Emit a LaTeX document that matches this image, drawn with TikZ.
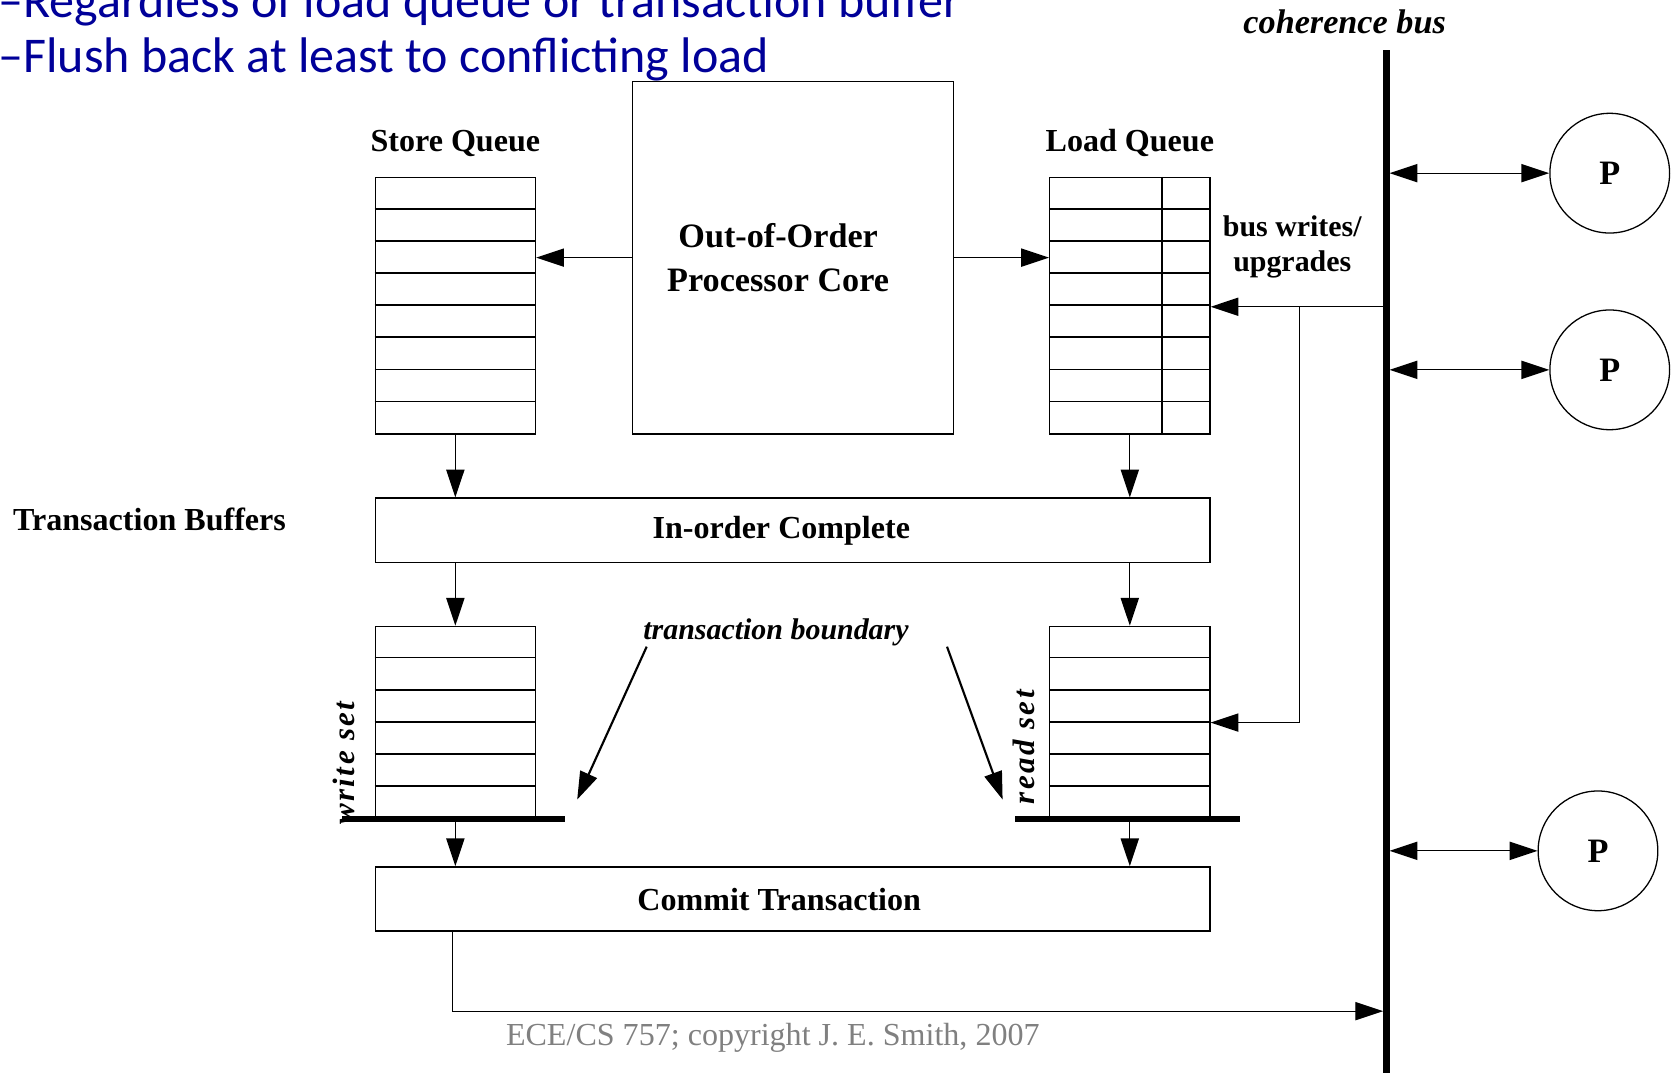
\documentclass[tikz,border=0pt]{standalone}
\usepackage{fontspec}
\setmainfont{Liberation Serif}
\newfontfamily\slidefont{Carlito}
\usetikzlibrary{arrows.meta, positioning}
\definecolor{slideblue}{RGB}{0,0,153}
\definecolor{footgray}{RGB}{128,128,128}
\tikzstyle{queue} = [draw, rectangle, inner sep=0pt, minimum width=75pt, minimum height=120pt]
\tikzstyle{tset} = [draw, rectangle, inner sep=0pt, minimum width=75pt, minimum height=90pt]
\tikzstyle{stage} = [draw, rectangle, inner sep=0pt, minimum width=390.5pt, minimum height=30pt]
\tikzstyle{stagetxt} = [font=\fontsize{15}{18}\selectfont\bfseries]
\tikzstyle{proc} = [draw, circle, inner sep=0pt, minimum size=56pt, font=\fontsize{16}{19}\selectfont\bfseries]
\tikzstyle{heading} = [font=\fontsize{15}{18}\selectfont\bfseries]
\tikzstyle{note} = [font=\fontsize{14}{17}\selectfont\bfseries\itshape]
\tikzstyle{setlbl} = [rotate=90, font=\fontsize{14.5}{17}\selectfont\bfseries\itshape\addfontfeature{LetterSpace=8}]
\tikzstyle{bar} = [line width=3pt]
\tikzstyle{slide} = [anchor=base west, inner sep=0pt, text=slideblue, font=\slidefont\fontsize{23.4}{28}\selectfont]

\begin{document}
\begin{tikzpicture}[x=0.5pt, y=-0.5pt, line width=0.6pt, >={Triangle[length=13pt,width=8.5pt]}]
\useasboundingbox (0,0) rectangle (1568,1003);

% slide text
\node[slide] (line1) at (-2,16) {–Regardless of load queue or transaction buffer};
\node[slide] (line2) at (-2,68) {–Flush back at least to conflicting load};

% core and queues
\node[draw, minimum width=150pt, minimum height=165pt] (core) at (742,241) {};
\node[align=center, font=\fontsize{16}{20.5}\selectfont\bfseries] (coretxt) at (728,241) {Out-of-Order\\Processor Core};
\node[queue] (sq) at (426,286) {};
\node[queue] (lq) at (1057,286) {};
\node[heading, above=6pt of sq] (sqlbl) {Store Queue};
\node[heading, above=6pt of lq] (lqlbl) {Load Queue};
\foreach \q in {sq,lq}
  \foreach \i in {1,...,7}
    \draw (\q.north west) ++(0,30*\i) -- ++(150,0);
\draw ([xshift=15pt]lq.north) -- ([xshift=15pt]lq.south);

% stages and sets
\node[stage] (inorder) at (741.5,496) {};
\node[stagetxt] (inordertxt) at (731,497) {In-order Complete};
\node[tset] (wset) at (426,676) {};
\node[tset] (rset) at (1057,676) {};
\foreach \q in {wset,rset}
  \foreach \i in {1,...,5}
    \draw (\q.north west) ++(0,30*\i) -- ++(150,0);
\node[stage] (commit) at (741.5,841) {};
\node[stagetxt] (committxt) at (729,842) {Commit Transaction};

\coordinate (wbarl) at (320,766);
\coordinate (wbarr) at (529,766);
\coordinate (rbarl) at (950,766);
\coordinate (rbarr) at (1160,766);
\draw[bar] (wbarl) -- (wbarr);
\draw[bar] (rbarl) -- (rbarr);

% labels
\node[heading, anchor=west] (tbuf) at (5,486) {Transaction Buffers};
\node[note] (tbound) at (726,592) {transaction boundary};
\node[setlbl] (wlbl) at (322,714) {write set};
\node[setlbl] (rlbl) at (958,699) {read set};
\node[font=\fontsize{16}{19}\selectfont\bfseries\itshape] (cbus) at (1258,20) {coherence bus};
\node[align=center, font=\fontsize{14}{16.5}\selectfont\bfseries] (bwlbl) at (1209,231) {bus writes/\\upgrades};
\node[font=\fontsize{15}{18}\selectfont, text=footgray] (foot) at (723,971) {ECE/CS 757; copyright J. E. Smith, 2007};

% bus and processors
\coordinate (bustop) at (1297,47);
\coordinate (busbot) at (1297,1010);
\node[proc] (p1) at (1506,162) {P};
\node[proc] (p2) at (1506,346) {P};
\node[proc] (p3) at (1495,796) {P};
\foreach \p in {p1,p2,p3}
  \draw[<->] ([xshift=1.5pt]\p.west -| bustop) -- (\p.west);

% data paths
\draw[->] (core.west) -- (core.west -| sq.east);
\draw[->] (core.east) -- (core.east -| lq.west);
\draw[->] (sq.south) -- (sq.south |- inorder.north);
\draw[->] (lq.south) -- (lq.south |- inorder.north);
\draw[->] (inorder.south -| wset.north) -- (wset.north);
\draw[->] (inorder.south -| rset.north) -- (rset.north);
\draw[->] (wset.south) -- (wset.south |- commit.north);
\draw[->] (rset.south) -- (rset.south |- commit.north);

\coordinate (bw) at (1297,287);
\coordinate (tap) at (1216,287);
\draw[->] (bw) -- (bw -| lq.east);
\draw[->] (tap) |- (rset.east);

\coordinate (cb) at (1294,946);
\draw[->] ([xshift=-1.5pt]commit.south -| wset.south) |- (cb);

\coordinate (tbl1) at (605,605);
\coordinate (tbl2) at (540,748);
\coordinate (tbr1) at (886,605);
\coordinate (tbr2) at (938,748);
\draw[->, line width=1pt] (tbl1) -- (tbl2);
\draw[->, line width=1pt] (tbr1) -- (tbr2);

\draw[line width=3pt] (bustop) -- (busbot);
\end{tikzpicture}
\end{document}
